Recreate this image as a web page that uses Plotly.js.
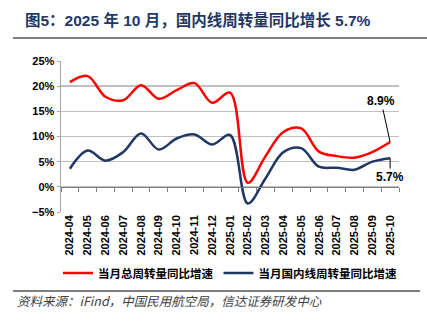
<!DOCTYPE html>
<html>
<head>
<meta charset="utf-8">
<script src="https://cdn.plot.ly/plotly-3.0.1.min.js"></script>
<style>html,body{margin:0;padding:0;background:#fff;}#chart{width:427px;height:325px;}</style>
</head>
<body>
<div id="chart"></div>
<script>
const months = ["2024-04","2024-05","2024-06","2024-07","2024-08","2024-09","2024-10","2024-11","2024-12","2025-01","2025-02","2025-03","2025-04","2025-05","2025-06","2025-07","2025-08","2025-09","2025-10"];
const totalGrowth = [20.8,22.0,17.9,17.2,20.2,17.5,19.2,20.6,16.7,18.7,0.8,6.1,10.9,11.6,7.0,6.1,5.8,6.9,8.9];
const domesticGrowth = [3.6,7.2,5.2,6.9,10.6,7.4,9.6,10.4,8.4,10.3,-3.3,1.7,6.9,7.7,4.0,3.8,3.4,5.0,5.7];
const seriesNames = ["当月总周转量同比增速","当月国内线周转量同比增速"];
const titleText = "图5：2025 年 10 月，国内线周转量同比增长 5.7%";
const sourceText = "资料来源：iFind，中国民用航空局，信达证券研发中心";

const FONT = "'Liberation Sans', Arial, 'Noto Sans CJK SC', sans-serif";
const L = 61, R = 399, T = 61, B = 212;
const W = R - L, H = B - T;
const px = x => (x - L) / W;
const py = y => (B - y) / H;

const traces = [
  {x: months, y: totalGrowth, name: seriesNames[0], type: 'scatter', mode: 'lines',
   line: {color: '#ff0000', width: 2.5, shape: 'spline', smoothing: 1}},
  {x: months, y: domesticGrowth, name: seriesNames[1], type: 'scatter', mode: 'lines',
   line: {color: '#1f3864', width: 2.5, shape: 'spline', smoothing: 1}},
  {x: months, y: months.map(() => null), xaxis: 'x2', yaxis: 'y', type: 'scatter', mode: 'lines',
   showlegend: false, hoverinfo: 'skip'}
];

const layout = {
  width: 427, height: 325,
  margin: {l: L, r: 427 - R, t: T, b: 325 - B},
  paper_bgcolor: '#fff', plot_bgcolor: '#fff',
  font: {family: FONT, color: '#000'},
  showlegend: true,
  title: {text: titleText, xref: 'container', yref: 'container', x: 25/427, xanchor: 'left',
          y: 1 - 21/325, yanchor: 'middle',
          font: {family: FONT, size: 15.5, weight: 'bold', color: '#1f3864'}},
  xaxis: {type: 'category', categoryarray: months, range: [-0.5, months.length - 0.5],
          showgrid: false, showline: false, zeroline: false, ticks: '', tickangle: -90,
          tickfont: {family: FONT, size: 11, weight: 'bold', color: '#000'}},
  xaxis2: {type: 'category', categoryarray: months, range: [-0.5, months.length - 0.5],
           overlaying: 'x', anchor: 'free', position: 1/6, side: 'bottom',
           showgrid: false, showticklabels: false, ticks: 'outside', tickson: 'boundaries',
           ticklen: 4, tickwidth: 1, tickcolor: '#7f7f7f', showline: true, linecolor: '#7f7f7f', linewidth: 1.5},
  yaxis: {range: [-5, 25], dtick: 5, ticksuffix: '%', showline: true, linecolor: '#a6a6a6', linewidth: 1.5,
          gridcolor: '#c0c0c0', gridwidth: 1.5, zeroline: false, ticks: 'outside', ticklen: 3,
          tickcolor: '#a6a6a6', tickfont: {family: FONT, size: 11, weight: 'bold', color: '#000'}},
  legend: {orientation: 'h', x: px(58), y: py(273), xanchor: 'left', yanchor: 'middle',
           font: {family: FONT, size: 11.5, weight: 'bold', color: '#000'}, itemwidth: 30,
           bgcolor: 'rgba(0,0,0,0)'},
  shapes: [
    {type: 'line', xref: 'paper', yref: 'paper', x0: px(13), x1: px(427), y0: py(38), y1: py(38),
     line: {color: '#7f7f7f', width: 2}},
    {type: 'line', xref: 'paper', yref: 'paper', x0: px(13), x1: px(420), y0: py(291), y1: py(291),
     line: {color: '#7f7f7f', width: 2}}
  ],
  annotations: [
    {x: months[months.length - 1], y: totalGrowth[totalGrowth.length - 1], xref: 'x', yref: 'y',
     text: totalGrowth[totalGrowth.length - 1].toFixed(1) + '%', showarrow: true, arrowhead: 0,
     arrowwidth: 1, arrowcolor: '#000', ax: -9, ay: -41,
     font: {family: FONT, size: 12, weight: 'bold', color: '#000'}},
    {x: months[months.length - 1], y: domesticGrowth[domesticGrowth.length - 1], xref: 'x', yref: 'y',
     text: domesticGrowth[domesticGrowth.length - 1].toFixed(1) + '%', showarrow: true, arrowhead: 0,
     arrowwidth: 1, arrowcolor: '#000', ax: 0, ay: 19,
     font: {family: FONT, size: 12, weight: 'bold', color: '#000'}},
    {xref: 'paper', yref: 'paper', x: px(15), y: py(300), xanchor: 'left', yanchor: 'middle',
     text: sourceText, showarrow: false,
     font: {family: "'Noto Sans CJK SC', sans-serif", size: 12.5, style: 'italic', color: '#404040'}}
  ]
};

Plotly.newPlot('chart', traces, layout, {staticPlot: true, displayModeBar: false});
</script>
</body>
</html>
